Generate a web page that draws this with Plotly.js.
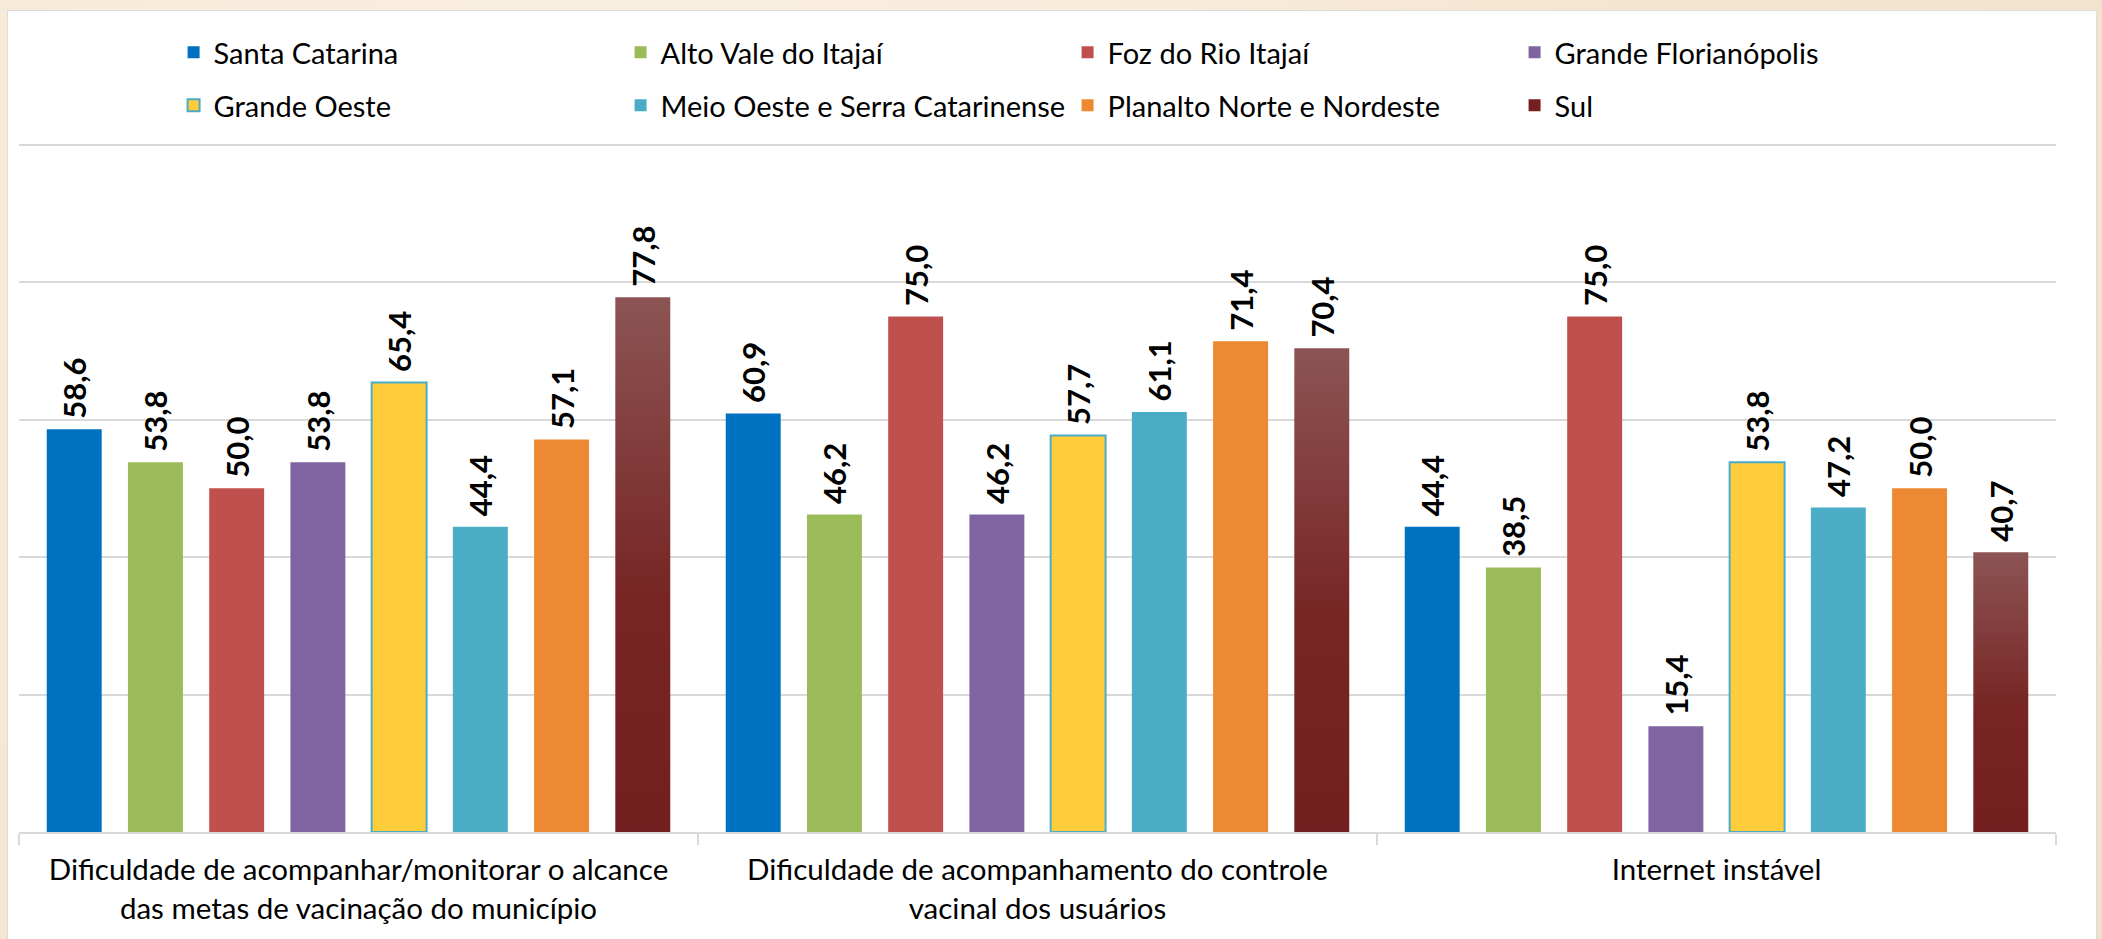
<!DOCTYPE html>
<html lang="pt-BR">
<head>
<meta charset="utf-8">
<script src="https://cdn.plot.ly/plotly-3.0.1.min.js"></script>
<style>
    html, body {
        margin: 0;
        padding: 0;
        width: 2102px;
        height: 939px;
        overflow: hidden;
        background: #f7ead8;
        background-image: radial-gradient(circle at 30% 20%, #faf1e4 0%, #f5e6d1 60%, #f2e1ca 100%);
    }
    #grafico {
        position: absolute;
        left: 8px;
        top: 11px;
        width: 2088px;
        height: 928px;
        background: #ffffff;
        box-shadow: 0 0 0 1px #dcdcdc;
    }
</style>
</head>
<body>
<div id="grafico"></div>
<script>
// Categorias (dificuldades relatadas)
const categorias = [
    'Dificuldade de acompanhar/monitorar o alcance<br>das metas de vacinação do município',
    'Dificuldade de acompanhamento do controle<br>vacinal dos usuários',
    'Internet instável'
];

// Regiões e valores (%)
const regioes = [
    'Santa Catarina', 'Alto Vale do Itajaí', 'Foz do Rio Itajaí', 'Grande Florianópolis',
    'Grande Oeste', 'Meio Oeste e Serra Catarinense', 'Planalto Norte e Nordeste', 'Sul'
];
const santaCatarina     = [58.6, 60.9, 44.4];
const altoVale          = [53.8, 46.2, 38.5];
const fozRioItajai      = [50.0, 75.0, 75.0];
const grandeFloripa     = [53.8, 46.2, 15.4];
const grandeOeste       = [65.4, 57.7, 53.8];
const meioOeste         = [44.4, 61.1, 47.2];
const planaltoNorte     = [57.1, 71.4, 50.0];
const sul               = [77.8, 70.4, 40.7];

const valores = [santaCatarina, altoVale, fozRioItajai, grandeFloripa,
                 grandeOeste, meioOeste, planaltoNorte, sul];
const cores = ['#0070c0', '#9bbb59', '#c0504d', '#8064a2',
               '#ffcd3c', '#4bacc6', '#ed8933', '#761f1f'];

const fonte = 'Lato, "Open Sans", sans-serif';

const dados = regioes.map((nome, i) => ({
    type: 'bar',
    name: nome,
    x: categorias,
    y: valores[i],
    legend: i < 4 ? 'legend' : 'legend2',
    marker: {
        color: cores[i],
        line: i === 4 ? { color: '#4bacc6', width: 2 } : { width: 0 }
    },
    texttemplate: '\u00a0%{y:.1f}',
    textposition: 'outside',
    textangle: -90,
    constraintext: 'none',
    cliponaxis: false,
    textfont: { family: fonte, size: 31, color: '#000000', weight: 700 },
    hoverinfo: 'skip'
}));

const legendaBase = {
    orientation: 'h',
    xref: 'container',
    yref: 'container',
    x: 0.0793,
    xanchor: 'left',
    yanchor: 'middle',
    entrywidth: 402,
    entrywidthmode: 'pixels',
    bgcolor: 'rgba(0,0,0,0)',
    traceorder: 'normal',
    font: { family: fonte, size: 29, color: '#000000' }
};

const layout = {
    paper_bgcolor: '#ffffff',
    plot_bgcolor: '#ffffff',
    font: { family: fonte, size: 29.5, color: '#000000' },
    separators: ',.',
    margin: { t: 132, r: 40, b: 107, l: 11 },
    barmode: 'group',
    bargap: 0.043,
    bargroupgap: 0.3235,
    showlegend: true,
    legend: { ...legendaBase, y: 1 - 41.5 / 928 },
    legend2: { ...legendaBase, y: 1 - 94.5 / 928 },
    xaxis: {
        showline: true,
        linecolor: '#d9d9d9',
        linewidth: 2,
        ticks: 'outside',
        tickson: 'boundaries',
        ticklen: 11,
        tickwidth: 2,
        tickcolor: '#d9d9d9',
        ticklabelstandoff: 11,
        tickfont: { family: fonte, size: 29.5, color: '#000000' },
        showgrid: false
    },
    yaxis: {
        range: [0, 100.25],
        tickvals: [20, 40, 60, 80, 100],
        showticklabels: false,
        gridcolor: '#d9d9d9',
        gridwidth: 2,
        zeroline: false
    }
};

const config = { displayModeBar: false, responsive: false };

Plotly.newPlot('grafico', dados, layout, config).then(function(gd) {
    // Degradê da série "Sul" (como no original)
    const ns = 'http://www.w3.org/2000/svg';
    const defs = gd.querySelector('.main-svg defs');
    const grad = document.createElementNS(ns, 'linearGradient');
    grad.setAttribute('id', 'gradSul');
    grad.setAttribute('x1', '0'); grad.setAttribute('y1', '0');
    grad.setAttribute('x2', '0'); grad.setAttribute('y2', '1');
    [['0', '#8c5454'], ['0.55', '#772624'], ['1', '#731f1f']].forEach(function(s) {
        const stop = document.createElementNS(ns, 'stop');
        stop.setAttribute('offset', s[0]);
        stop.setAttribute('stop-color', s[1]);
        grad.appendChild(stop);
    });
    defs.appendChild(grad);

    const tracos = gd.querySelectorAll('.barlayer .trace');
    tracos[7].querySelectorAll('.point path').forEach(function(p) {
        p.style.fill = 'url(#gradSul)';
    });
    gd.querySelectorAll('.legend .traces').forEach(function(t) {
        const txt = t.querySelector('.legendtext');
        if (txt && txt.textContent === 'Sul') {
            t.querySelectorAll('.legendpoints path').forEach(function(p) {
                p.style.fill = 'url(#gradSul)';
            });
        }
    });
});
</script>
</body>
</html>
